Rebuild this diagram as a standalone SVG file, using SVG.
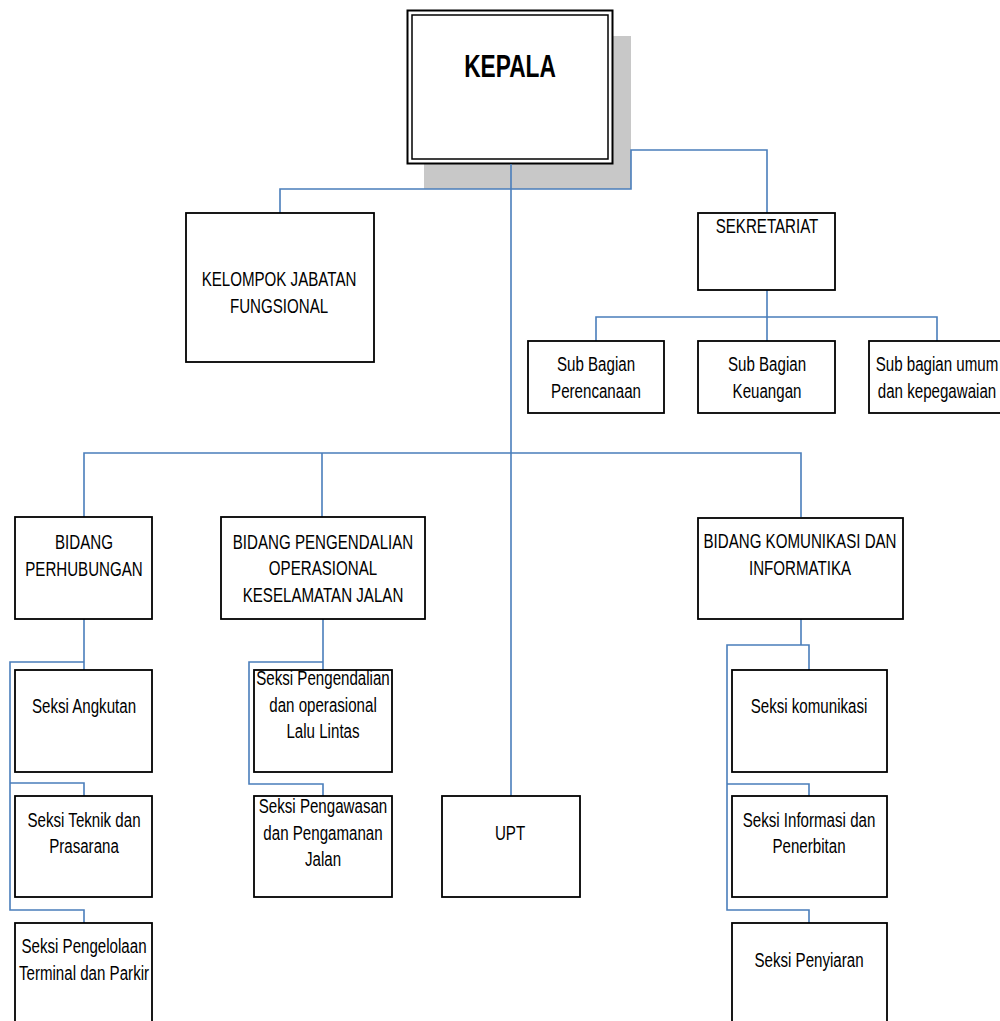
<svg xmlns="http://www.w3.org/2000/svg" width="1000" height="1021" viewBox="0 0 1000 1021">
<style>
.box{fill:#fff;stroke:#000;stroke-width:1.8}
.c{fill:none;stroke:#4a7ebb;stroke-width:1.6}
text{font-family:"Liberation Sans",Arial,sans-serif;font-size:21px;fill:#000;text-anchor:middle}
.b{font-weight:bold;font-size:32px}
</style>
<rect width="1000" height="1021" fill="#fff"/>
<g id="kepala">
<rect x="424" y="36" width="207" height="153" fill="#c8c8c8"/>
<rect x="407.5" y="10.5" width="205" height="153" fill="#fff" stroke="#000" stroke-width="2"/>
<rect x="412" y="15" width="196" height="144" fill="none" stroke="#000" stroke-width="1.5"/>
<text class="b" transform="translate(510,0) scale(0.71,1)" x="0" y="77">KEPALA</text>
</g>
<g id="connectors">
<polyline class="c" points="280,213 280,189 631,189 631,150 767,150 767,213"/>
<polyline class="c" points="511,164 511,796"/>
<polyline class="c" points="84,517 84,453 801,453 801,517"/>
<polyline class="c" points="322,453 322,517"/>
<polyline class="c" points="767,290 767,341"/>
<polyline class="c" points="596,341 596,317 937,317 937,341"/>
<polyline class="c" points="84,619 84,670"/>
<polyline class="c" points="84,662 10,662 10,910 84,910 84,923"/>
<polyline class="c" points="10,783 84,783 84,796"/>
<polyline class="c" points="323,619 323,670"/>
<polyline class="c" points="323,662 249,662 249,784 323,784 323,796"/>
<polyline class="c" points="801,619 801,645"/>
<polyline class="c" points="809,670 809,645 727,645 727,910 809,910 809,923"/>
<polyline class="c" points="727,784 809,784 809,796"/>
</g>
<g id="kelompok">
<rect class="box" x="186" y="213" width="188" height="149"/>
<text transform="translate(279,0) scale(0.72,1)"><tspan x="0" y="286">KELOMPOK JABATAN</tspan><tspan x="0" y="313">FUNGSIONAL</tspan></text>
</g>
<g id="sekretariat">
<rect class="box" x="698" y="213" width="137" height="77"/>
<text transform="translate(767,0) scale(0.72,1)" x="0" y="233">SEKRETARIAT</text>
</g>
<g id="sub-perencanaan">
<rect class="box" x="528" y="341" width="136" height="72"/>
<text transform="translate(596,0) scale(0.72,1)"><tspan x="0" y="371">Sub Bagian</tspan><tspan x="0" y="398">Perencanaan</tspan></text>
</g>
<g id="sub-keuangan">
<rect class="box" x="698" y="341" width="137" height="72"/>
<text transform="translate(767,0) scale(0.72,1)"><tspan x="0" y="371">Sub Bagian</tspan><tspan x="0" y="398">Keuangan</tspan></text>
</g>
<g id="sub-umum">
<rect class="box" x="869" y="341" width="140" height="72"/>
<text transform="translate(937,0) scale(0.72,1)"><tspan x="0" y="371">Sub bagian umum</tspan><tspan x="0" y="398">dan kepegawaian</tspan></text>
</g>
<g id="bidang-perhubungan">
<rect class="box" x="15" y="517" width="137" height="102"/>
<text transform="translate(84,0) scale(0.72,1)"><tspan x="0" y="549">BIDANG</tspan><tspan x="0" y="576">PERHUBUNGAN</tspan></text>
</g>
<g id="seksi-angkutan">
<rect class="box" x="15" y="670" width="137" height="102"/>
<text transform="translate(84,0) scale(0.72,1)" x="0" y="713">Seksi Angkutan</text>
</g>
<g id="seksi-teknik">
<rect class="box" x="15" y="796" width="137" height="101"/>
<text transform="translate(84,0) scale(0.72,1)"><tspan x="0" y="827">Seksi Teknik dan</tspan><tspan x="0" y="853">Prasarana</tspan></text>
</g>
<g id="seksi-pengelolaan">
<rect class="box" x="15" y="923" width="137" height="110"/>
<text transform="translate(84,0) scale(0.72,1)"><tspan x="0" y="953">Seksi Pengelolaan</tspan><tspan x="0" y="980">Terminal dan Parkir</tspan></text>
</g>
<g id="bidang-pengendalian">
<rect class="box" x="221" y="517" width="204" height="102"/>
<text transform="translate(323,0) scale(0.72,1)"><tspan x="0" y="549">BIDANG PENGENDALIAN</tspan><tspan x="0" y="575">OPERASIONAL</tspan><tspan x="0" y="602">KESELAMATAN JALAN</tspan></text>
</g>
<g id="seksi-pengendalian">
<rect class="box" x="254" y="670" width="138" height="102"/>
<text transform="translate(323,0) scale(0.72,1)"><tspan x="0" y="685">Seksi Pengendalian</tspan><tspan x="0" y="712">dan operasional</tspan><tspan x="0" y="738">Lalu Lintas</tspan></text>
</g>
<g id="seksi-pengawasan">
<rect class="box" x="254" y="796" width="138" height="101"/>
<text transform="translate(323,0) scale(0.72,1)"><tspan x="0" y="813">Seksi Pengawasan</tspan><tspan x="0" y="840">dan Pengamanan</tspan><tspan x="0" y="866">Jalan</tspan></text>
</g>
<g id="upt">
<rect class="box" x="442" y="796" width="138" height="101"/>
<text transform="translate(510,0) scale(0.72,1)" x="0" y="840">UPT</text>
</g>
<g id="bidang-komunikasi">
<rect class="box" x="698" y="518" width="205" height="101"/>
<text transform="translate(800,0) scale(0.72,1)"><tspan x="0" y="548">BIDANG KOMUNIKASI DAN</tspan><tspan x="0" y="575">INFORMATIKA</tspan></text>
</g>
<g id="seksi-komunikasi">
<rect class="box" x="732" y="670" width="155" height="102"/>
<text transform="translate(809,0) scale(0.72,1)" x="0" y="713">Seksi komunikasi</text>
</g>
<g id="seksi-informasi">
<rect class="box" x="732" y="796" width="155" height="101"/>
<text transform="translate(809,0) scale(0.72,1)"><tspan x="0" y="827">Seksi Informasi dan</tspan><tspan x="0" y="853">Penerbitan</tspan></text>
</g>
<g id="seksi-penyiaran">
<rect class="box" x="732" y="923" width="155" height="110"/>
<text transform="translate(809,0) scale(0.72,1)" x="0" y="967">Seksi Penyiaran</text>
</g>
</svg>
